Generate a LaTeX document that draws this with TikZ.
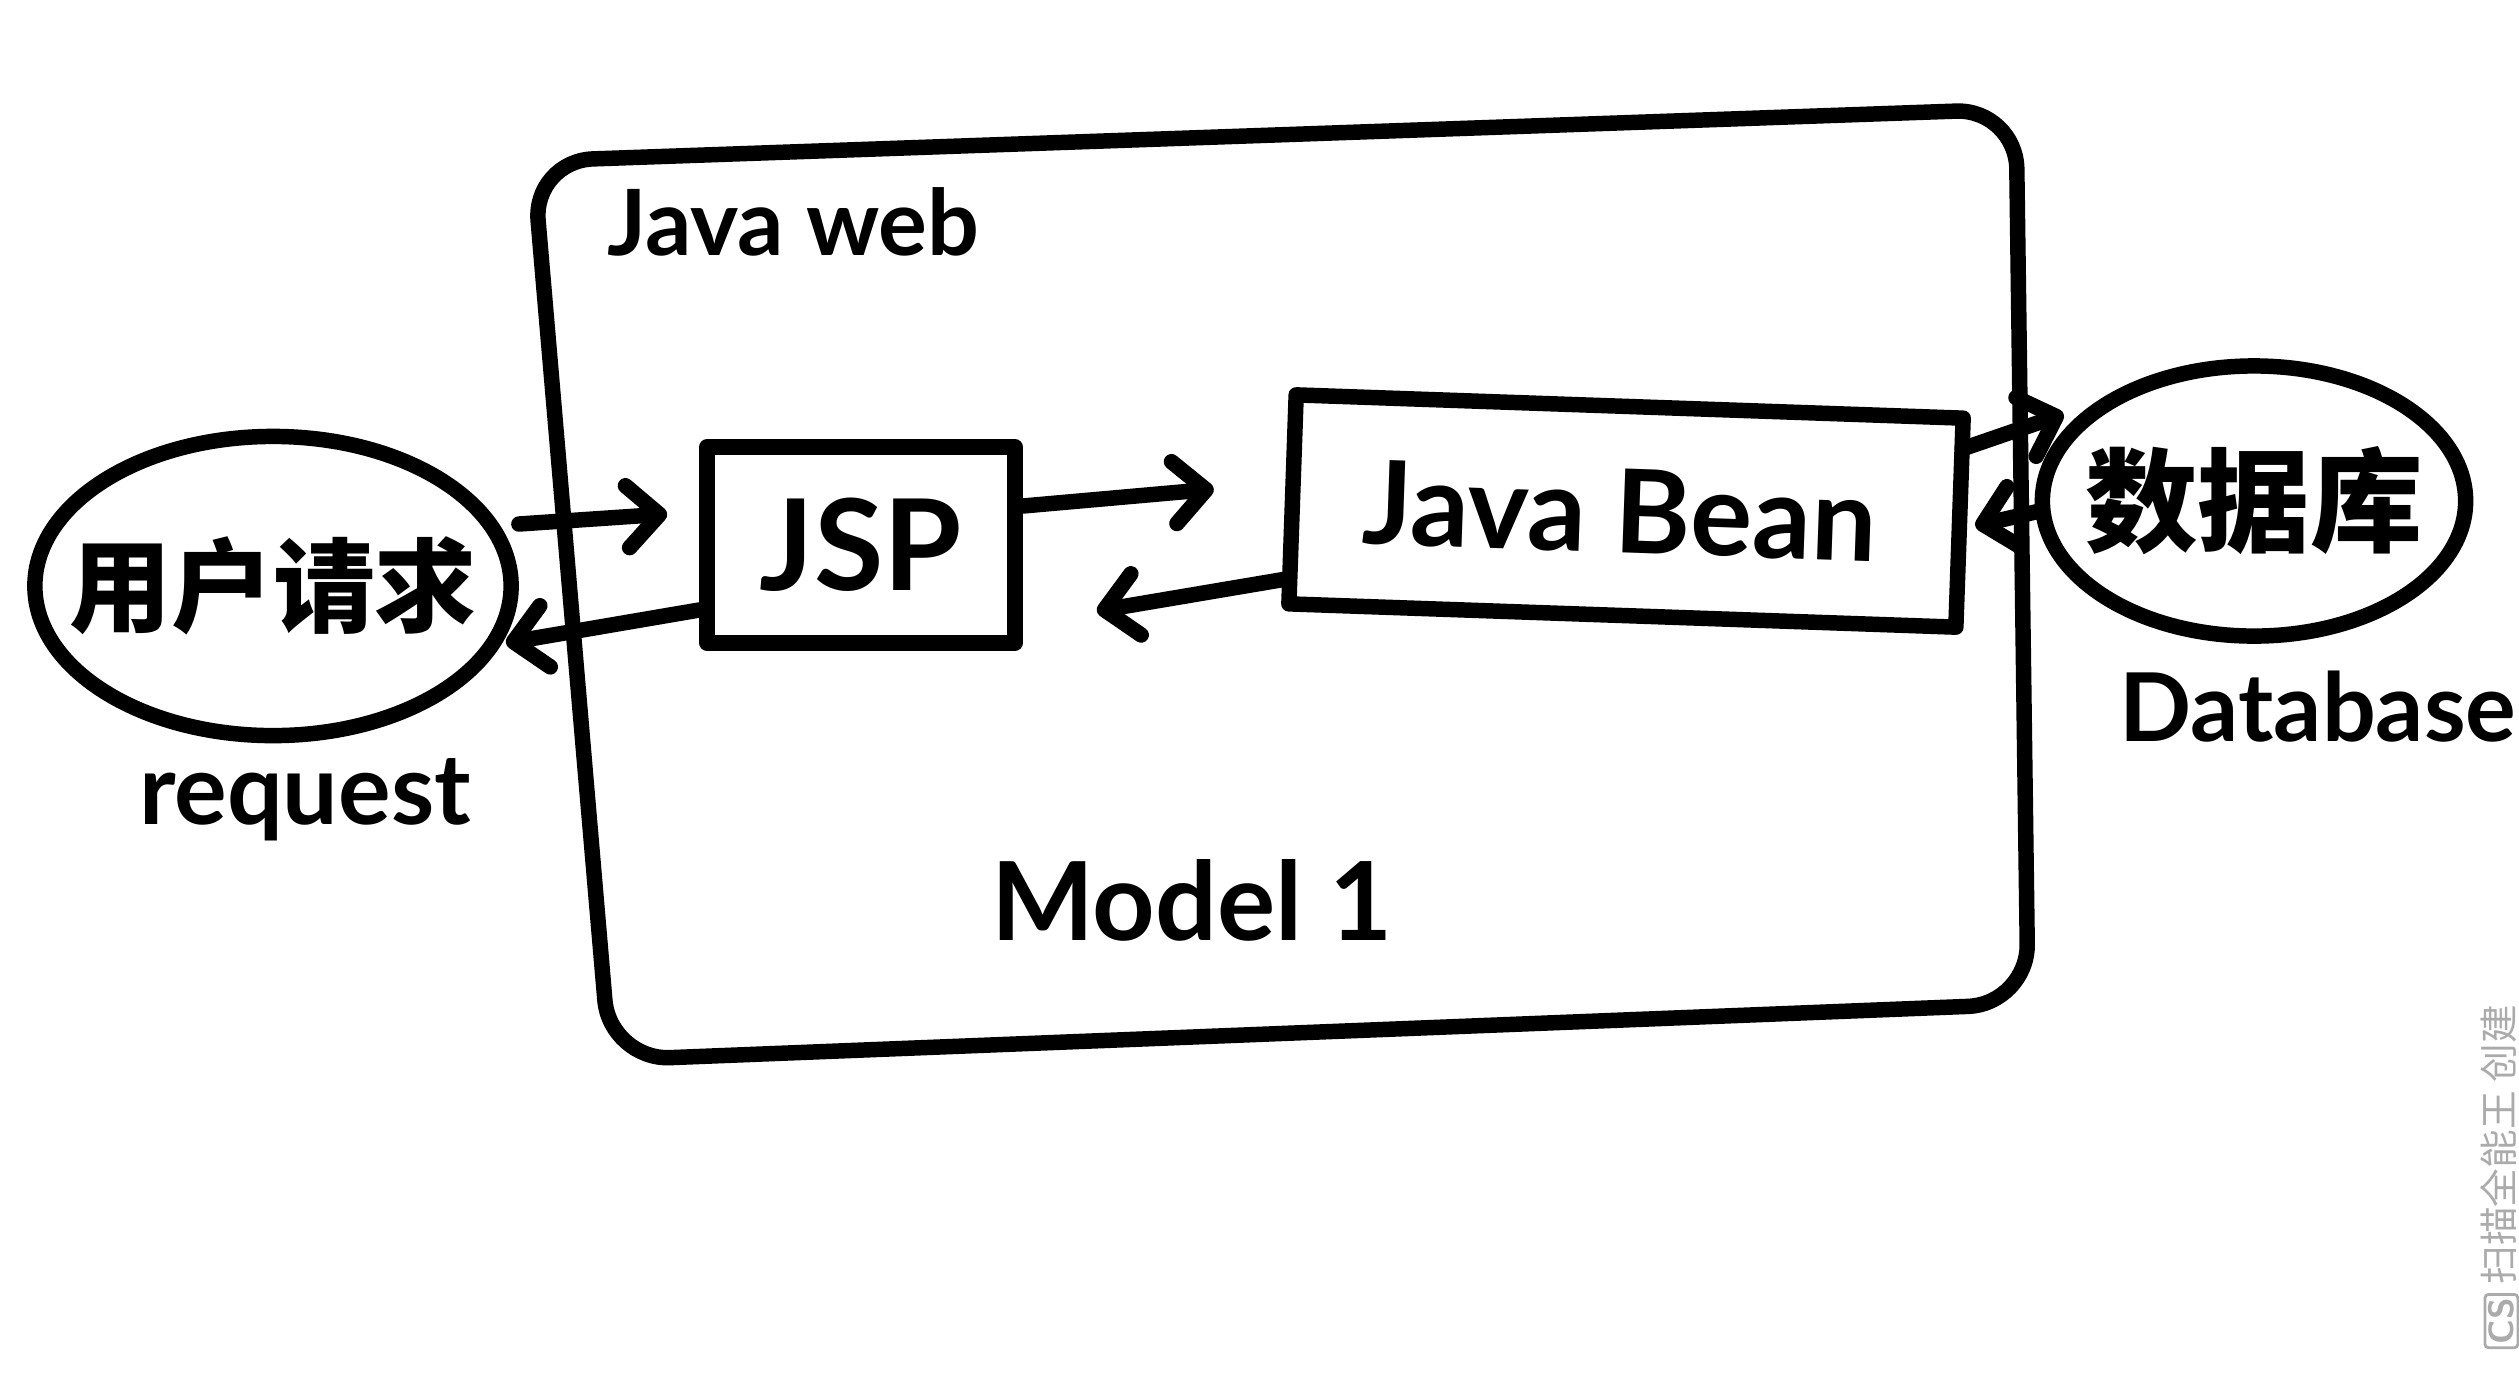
\documentclass[tikz,border=0pt]{standalone}
\usepackage{fontspec}
\setmainfont{Lato}
\newfontfamily\cjk{Noto Sans CJK SC}
\usetikzlibrary{shapes.geometric,arrows.meta,calc}
\tikzset{
  ink/.style={line width=4.4pt, line cap=round, line join=round, draw=black},
  flow/.style={ink, -{Straight Barb[round, length=0.32cm, width=0.62cm, line width=4.4pt]}},
  bubble/.style={ink, ellipse, inner sep=0pt},
  compbox/.style={ink, rectangle, inner sep=0pt},
  hand/.style={font=\bfseries},
}
\begin{document}
\begin{tikzpicture}[x=0.01cm, y=-0.01cm]
\useasboundingbox[fill=white] (0,0) rectangle (2519,1378);
% outer Java web container
\draw[ink, rounded corners=0.6cm] (533,161) -- (2016,109) -- (2028,1004) -- (610,1060) -- cycle;
\node[hand, font=\bfseries\fontsize{26}{30}\selectfont, anchor=west] (jw) at (595,222) {Java web};
\node[hand, font=\bfseries\fontsize{31}{35}\selectfont] (m1) at (1192,900) {Model 1};
% nodes
\node[bubble, minimum width=4.76cm, minimum height=2.99cm] (user) at (273,586) {};
\node[font=\cjk\bfseries\fontsize{29}{33}\selectfont] (usert) at (user.center) {用户请求};
\node[hand, font=\bfseries\fontsize{28}{32}\selectfont] (req) at (305,800) {request};
\node[compbox, minimum width=3.08cm, minimum height=1.96cm] (jsp) at (861,545) {};
\node[hand, font=\bfseries\fontsize{36}{40}\selectfont] (jspt) at (jsp.center) {JSP};
\node[compbox, minimum width=6.67cm, minimum height=2.09cm, rotate=-2] (bean) at (1626,511) {};
\node[hand, font=\bfseries\fontsize{33}{37}\selectfont, rotate=-2] (beant) at (1620,511) {Java Bean};
\node[bubble, minimum width=4.23cm, minimum height=2.70cm] (db) at (2254,501) {};
\node[font=\cjk\bfseries\fontsize{32}{36}\selectfont] (dbt) at (db.center) {数据库};
\node[hand, font=\bfseries\fontsize{27}{31}\selectfont] (dbl) at (2318,707) {Database};
% connectors
\draw[flow] ($(user.east)+(0,-62)$) -- ($(jsp.west)+(-32,-31)$);
\draw[flow] ($(jsp.west)+(0,65)$) -- ($(user.east)+(-13,57)$);
\draw[flow] ($(jsp.east)+(0,-39)$) -- ($(bean.west)+(-71,-10)$);
\draw[flow] ($(bean.west)+(1,80)$) -- ($(jsp.east)+(74,66)$);
\draw[flow] ($(bean.east)+(-5,-74)$) -- ($(db.west)+(29,-87)$);
\draw[flow] ($(db.west)+(5,10)$) -- ($(bean.east)+(8,3)$);
% watermark
\node[rotate=90, text=black!33, font=\cjk\fontsize{11}{13}\selectfont, inner sep=0pt] (wm) at (2500,1177)
  {\tikz[baseline=(c.base)]\node[draw=black!33, line width=0.8pt, rounded corners=1pt, inner sep=1pt, font=\sffamily\bfseries\fontsize{10}{12}\selectfont] (c) {CS};\ 扫描全能王 创建};
\end{tikzpicture}
\end{document}
